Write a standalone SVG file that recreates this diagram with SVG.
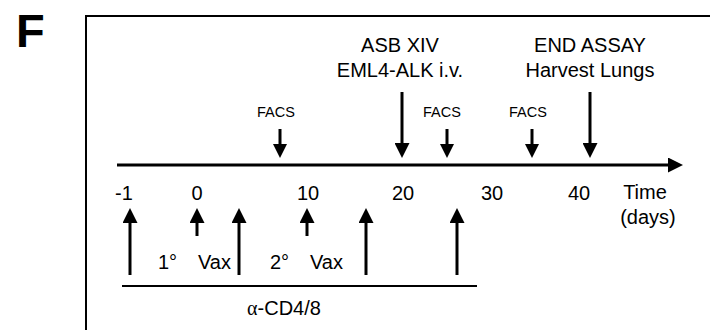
<svg xmlns="http://www.w3.org/2000/svg" width="710" height="330" viewBox="0 0 710 330">
<defs>
<marker id="ah" viewBox="0 0 15 15" markerWidth="15" markerHeight="15" markerUnits="userSpaceOnUse" refX="1" refY="7.5" orient="auto">
<path d="M0,0 L15,7.5 L0,15 Z" fill="#000"/>
</marker>
<marker id="ahs" viewBox="0 0 14 14" markerWidth="14" markerHeight="14" markerUnits="userSpaceOnUse" refX="1" refY="7" orient="auto">
<path d="M0,0 L14,7 L0,14 Z" fill="#000"/>
</marker>
</defs>
<style>
text{font-family:"Liberation Sans",Arial,sans-serif;fill:#000}
.t{font-size:20px}
.s{font-size:14.5px}
.m{text-anchor:middle}
.ar{stroke:#000;stroke-width:3;fill:none;marker-end:url(#ah)}
.sm{stroke:#000;stroke-width:3;fill:none;marker-end:url(#ahs)}
</style>
<rect width="710" height="330" fill="#fff"/>
<text x="16" y="47" style="font-size:47px;font-weight:bold">F</text>
<rect x="86" y="16" width="700" height="400" fill="none" stroke="#000" stroke-width="2"/>

<g id="connectors">
<line x1="117" y1="165" x2="669" y2="165" stroke="#000" stroke-width="3" marker-end="url(#ah)"/>
<line class="sm" x1="280" y1="129" x2="280" y2="145"/>
<line class="sm" x1="447" y1="129" x2="447" y2="145"/>
<line class="sm" x1="532" y1="129" x2="532" y2="145"/>
<line class="ar" x1="402" y1="92" x2="402" y2="144"/>
<line class="ar" x1="590" y1="92" x2="590" y2="144"/>
<line class="ar" x1="130" y1="275" x2="130" y2="222"/>
<line class="ar" x1="197" y1="236" x2="197" y2="222"/>
<line class="ar" x1="239" y1="275" x2="239" y2="222"/>
<line class="ar" x1="307" y1="236" x2="307" y2="222"/>
<line class="ar" x1="366" y1="275" x2="366" y2="222"/>
<line class="ar" x1="457" y1="275" x2="457" y2="222"/>
<line x1="122" y1="286" x2="477" y2="286" stroke="#000" stroke-width="2"/>
</g>

<g id="facs1"><text class="s m" x="276" y="117">FACS</text></g>
<g id="facs2"><text class="s m" x="442" y="117">FACS</text></g>
<g id="facs3"><text class="s m" x="528" y="117">FACS</text></g>
<g id="asb"><text class="t m" x="400" y="52">ASB XIV</text><text class="t m" x="400" y="77">EML4-ALK i.v.</text></g>
<g id="end"><text class="t m" x="590" y="52">END ASSAY</text><text class="t m" x="590" y="77">Harvest Lungs</text></g>

<g id="ticks">
<text class="t m" x="124" y="200">-1</text>
<text class="t m" x="197" y="200">0</text>
<text class="t m" x="308" y="200">10</text>
<text class="t m" x="403" y="200">20</text>
<text class="t m" x="492" y="200">30</text>
<text class="t m" x="579" y="200">40</text>
<text class="t m" x="645" y="199">Time</text>
<text class="t m" x="648" y="224">(days)</text>
</g>

<g id="vax">
<text class="t" x="158" y="269">1°</text>
<text class="t" x="198" y="269">Vax</text>
<text class="t" x="270" y="269">2°</text>
<text class="t" x="310" y="269">Vax</text>
</g>
<g id="cd"><text class="t m" x="284" y="315"><tspan style="font-family:'Liberation Serif',serif">α</tspan>-CD4/8</text></g>
</svg>
